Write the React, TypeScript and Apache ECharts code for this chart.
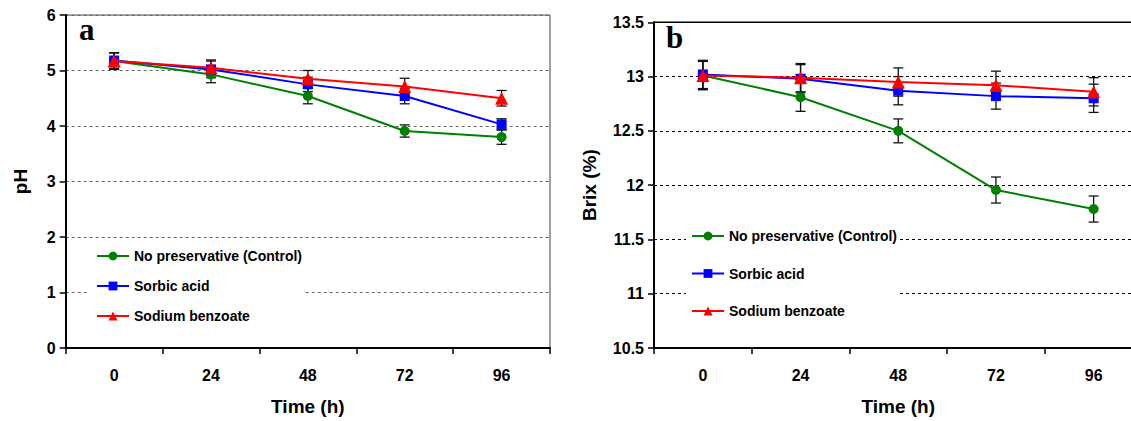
import React, { useEffect, useRef } from "react";
import * as echarts from "echarts";

const categories = ["0", "24", "48", "72", "96"];
const seriesNames = ["No preservative (Control)", "Sorbic acid", "Sodium benzoate"];

const phControl = [5.17, 4.93, 4.54, 3.91, 3.8];
const phSorbic = [5.18, 5.02, 4.75, 4.54, 4.03];
const phBenzoate = [5.17, 5.05, 4.85, 4.71, 4.5];
const phControlErr = [0.15, 0.15, 0.14, 0.11, 0.13];
const phSorbicErr = [0.14, 0.15, 0.13, 0.14, 0.1];
const phBenzoateErr = [0.15, 0.14, 0.15, 0.15, 0.14];

const brixControl = [13.01, 12.81, 12.5, 11.955, 11.78];
const brixSorbic = [13.02, 12.98, 12.87, 12.82, 12.8];
const brixBenzoate = [13.01, 12.99, 12.95, 12.92, 12.86];
const brixControlErr = [0.13, 0.13, 0.11, 0.12, 0.12];
const brixSorbicErr = [0.13, 0.13, 0.13, 0.12, 0.13];
const brixBenzoateErr = [0.13, 0.13, 0.13, 0.13, 0.13];

const colors = ["#008000", "#0000ff", "#ff0000"];
const symbols = ["circle", "rect", "triangle"];
const symbolSizes = [10, 10, 13];

const FONT = "'Liberation Sans', Arial, sans-serif";

function errData(vals: number[], errs: number[]) {
  return vals.map((v, i) => [i, v - errs[i], v + errs[i]]);
}

function errorSeries(idx: number, vals: number[], errs: number[]) {
  return {
    type: "custom",
    name: "err" + idx,
    xAxisIndex: idx,
    yAxisIndex: idx,
    z: 1,
    encode: { x: 0, y: [1, 2] },
    data: errData(vals, errs),
    renderItem: (params: any, api: any) => {
      const x = api.value(0);
      const lo = api.coord([x, api.value(1)]);
      const hi = api.coord([x, api.value(2)]);
      const w = 5;
      const st = { stroke: "#111", lineWidth: 1.3 };
      return {
        type: "group",
        children: [
          { type: "line", shape: { x1: lo[0], y1: lo[1], x2: hi[0], y2: hi[1] }, style: st },
          { type: "line", shape: { x1: lo[0] - w, y1: lo[1], x2: lo[0] + w, y2: lo[1] }, style: st },
          { type: "line", shape: { x1: hi[0] - w, y1: hi[1], x2: hi[0] + w, y2: hi[1] }, style: st },
        ],
      };
    },
  };
}

function lineSeries(idx: number, k: number, vals: number[]) {
  return {
    type: "line",
    name: seriesNames[k],
    xAxisIndex: idx,
    yAxisIndex: idx,
    z: 3 + k,
    data: vals,
    symbol: symbols[k],
    symbolSize: symbolSizes[k],
    color: colors[k],
    lineStyle: { color: colors[k], width: 2 },
    itemStyle: { color: colors[k] },
  };
}

function xAxisCfg(gridIndex: number) {
  return {
    type: "category",
    gridIndex,
    data: categories,
    boundaryGap: true,
    name: "Time (h)",
    nameLocation: "middle",
    nameGap: 49,
    nameTextStyle: { fontFamily: FONT, fontWeight: "bold", fontSize: 19, color: "#000" },
    axisLine: { show: true, lineStyle: { color: "#000", width: 2 } },
    axisTick: { show: true, length: 6, inside: false, lineStyle: { color: "#000", width: 1.5 } },
    axisLabel: { margin: 19, fontFamily: FONT, fontWeight: "bold", fontSize: 16, color: "#000" },
    splitLine: { show: false },
  };
}

export default function App() {
  const ref = useRef<HTMLDivElement>(null);
  useEffect(() => {
    if (!ref.current) return;
    const chart = echarts.init(ref.current, null, { renderer: "svg" });
    const legendBase = {
      data: seriesNames,
      orient: "vertical",
      itemWidth: 32,
      itemHeight: 11,
      backgroundColor: "#fff",
      selectedMode: false,
      textStyle: { fontFamily: FONT, fontWeight: "bold", fontSize: 14, color: "#000", lineHeight: 16 },
    };
    chart.setOption({
      animation: false,
      backgroundColor: "#fff",
      grid: [
        { left: 65.7, top: 15, width: 484.3, height: 336, show: true, borderColor: "#444", borderWidth: 1 },
        { left: 654, top: 22.3, width: 488.5, height: 326, show: true, borderColor: "#000", borderWidth: 1.5 },
      ],
      xAxis: [xAxisCfg(0), xAxisCfg(1)],
      yAxis: [
        {
          type: "value",
          gridIndex: 0,
          min: 0,
          max: 6,
          interval: 1,
          name: "pH",
          nameLocation: "middle",
          nameGap: 36,
          nameTextStyle: { fontFamily: FONT, fontWeight: "bold", fontSize: 19, color: "#000" },
          axisLine: { show: true, lineStyle: { color: "#000", width: 2 } },
          axisTick: { show: true, length: 6, lineStyle: { color: "#000", width: 1.5 } },
          axisLabel: { margin: 10, fontFamily: FONT, fontWeight: "bold", fontSize: 16, color: "#000" },
          splitLine: { show: true, lineStyle: { color: "#666", width: 1, type: [3, 3] } },
        },
        {
          type: "value",
          gridIndex: 1,
          min: 10.5,
          max: 13.5,
          interval: 0.5,
          name: "Brix (%)",
          nameLocation: "middle",
          nameGap: 55,
          nameTextStyle: { fontFamily: FONT, fontWeight: "bold", fontSize: 19, color: "#000" },
          axisLine: { show: true, lineStyle: { color: "#000", width: 2 } },
          axisTick: { show: true, length: 6, lineStyle: { color: "#000", width: 1.5 } },
          axisLabel: { margin: 10, fontFamily: FONT, fontWeight: "bold", fontSize: 16, color: "#000" },
          splitLine: { show: true, lineStyle: { color: "#000", width: 1, type: [3, 3] } },
        },
      ],
      legend: [
        { ...legendBase, left: 88, top: 242, itemGap: 14, padding: [6, 2, 6, 8] },
        { ...legendBase, left: 686, top: 220, itemGap: 21.5, padding: [8, 3, 8, 5] },
      ],
      graphic: [
        {
          type: "text",
          left: 79,
          top: 14,
          style: { text: "a", fontFamily: "'Liberation Serif', 'Times New Roman', serif", fontWeight: "bold", fontSize: 31, fill: "#000" },
        },
        {
          type: "text",
          left: 666,
          top: 22,
          style: { text: "b", fontFamily: "'Liberation Serif', 'Times New Roman', serif", fontWeight: "bold", fontSize: 31, fill: "#000" },
        },
      ],
      series: [
        errorSeries(0, phControl, phControlErr),
        errorSeries(0, phSorbic, phSorbicErr),
        errorSeries(0, phBenzoate, phBenzoateErr),
        errorSeries(1, brixControl, brixControlErr),
        errorSeries(1, brixSorbic, brixSorbicErr),
        errorSeries(1, brixBenzoate, brixBenzoateErr),
        lineSeries(0, 0, phControl),
        lineSeries(0, 1, phSorbic),
        lineSeries(0, 2, phBenzoate),
        lineSeries(1, 0, brixControl),
        lineSeries(1, 1, brixSorbic),
        lineSeries(1, 2, brixBenzoate),
      ],
    });
    return () => chart.dispose();
  }, []);
  return (
    <div style={{ position: "absolute", left: 0, top: 0, width: 1131, height: 421, overflow: "hidden" }}>
      <div ref={ref} style={{ position: "absolute", left: 0, top: 0, width: 1160, height: 421 }} />
    </div>
  );
}
